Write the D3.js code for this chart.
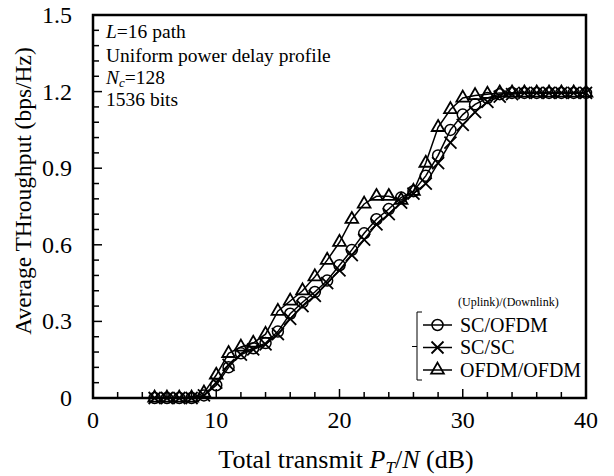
<!DOCTYPE html>
<html>
<head>
<meta charset="utf-8">
<script src="https://cdn.jsdelivr.net/npm/d3@7"></script>
<style>
  body { margin: 0; background: #fff; }
  text { font-family: "Liberation Serif", "Times New Roman", serif; fill: #000; }
</style>
</head>
<body>
<div id="chart"></div>
<script>
// data
const snr = d3.range(5, 41);
const scOfdm = [0, 0, 0, 0, 0.01, 0.05, 0.12, 0.175, 0.195, 0.215, 0.26, 0.33, 0.375, 0.415, 0.46, 0.52,
  0.58, 0.645, 0.70, 0.74, 0.785, 0.81, 0.87, 0.95, 1.05, 1.11, 1.15, 1.175, 1.19, 1.195,
  1.195, 1.195, 1.195, 1.195, 1.195, 1.195];
const scSc = [0, 0, 0, 0, 0.01, 0.06, 0.13, 0.17, 0.19, 0.21, 0.25, 0.31, 0.36, 0.40, 0.45, 0.50,
  0.56, 0.62, 0.68, 0.72, 0.765, 0.80, 0.84, 0.92, 1.00, 1.07, 1.12, 1.16, 1.18, 1.19,
  1.195, 1.195, 1.195, 1.195, 1.195, 1.195];
const ofdmOfdm = [0, 0, 0, 0, 0.02, 0.09, 0.175, 0.20, 0.215, 0.25, 0.34, 0.38, 0.42, 0.475, 0.54, 0.61,
  0.70, 0.76, 0.79, 0.79, 0.775, 0.81, 0.92, 1.06, 1.13, 1.175, 1.185, 1.19, 1.195, 1.195,
  1.195, 1.195, 1.195, 1.195, 1.195, 1.195];
const seriesNames = ["SC/OFDM", "SC/SC", "OFDM/OFDM"];
const xTicks = [0, 10, 20, 30, 40];
const yTicks = [0, 0.3, 0.6, 0.9, 1.2, 1.5];

const width = 614, height = 476;
const margin = {top: 15, right: 28, bottom: 78, left: 93};

const svg = d3.select("#chart").append("svg")
  .attr("width", width).attr("height", height);

const x = d3.scaleLinear().domain([0, 40]).range([margin.left, width - margin.right]);
const y = d3.scaleLinear().domain([0, 1.5]).range([height - margin.bottom, margin.top]);

// ticks point inward
const g = svg.append("g").attr("stroke", "#000").attr("stroke-width", 1.5);
d3.range(0, 40.01, 2).forEach(v => {
  const len = v % 10 === 0 ? 9 : 6;
  g.append("line").attr("x1", x(v)).attr("x2", x(v))
    .attr("y1", y(0)).attr("y2", y(0) - len);
});
d3.range(0, 1.501, 0.06).forEach(v => {
  const major = Math.abs(v / 0.3 - Math.round(v / 0.3)) < 1e-6;
  g.append("line").attr("x1", x(0)).attr("x2", x(0) + (major ? 9 : 6))
    .attr("y1", y(v)).attr("y2", y(v));
});

// tick labels
svg.append("g").selectAll("text").data(xTicks).join("text")
  .attr("x", d => x(d)).attr("y", y(0) + 30)
  .attr("text-anchor", "middle").attr("font-size", 24)
  .text(d => d);
svg.append("g").selectAll("text").data(yTicks).join("text")
  .attr("x", 72).attr("y", d => y(d) + 8)
  .attr("text-anchor", "end").attr("font-size", 24)
  .text(d => d === 0 ? "0" : d3.format(".1f")(d));

// frame
svg.append("rect")
  .attr("x", x(0)).attr("y", y(1.5))
  .attr("width", x(40) - x(0)).attr("height", y(0) - y(1.5))
  .attr("fill", "none").attr("stroke", "#000").attr("stroke-width", 2.5);

// axis titles
svg.append("text")
  .attr("transform", "translate(31,191) rotate(-90)")
  .attr("text-anchor", "middle").attr("font-size", 23.5)
  .text("Average THroughput (bps/Hz)");
const xt = svg.append("text")
  .attr("x", 346).attr("y", 468)
  .attr("text-anchor", "middle").attr("font-size", 26);
xt.append("tspan").text("Total transmit ");
xt.append("tspan").attr("font-style", "italic").text("P");
xt.append("tspan").attr("font-style", "italic").attr("font-size", 17).attr("dy", 5).text("T");
xt.append("tspan").attr("dy", -5).text("/");
xt.append("tspan").attr("font-style", "italic").text("N");
xt.append("tspan").text(" (dB)");

// annotation
const ann = svg.append("g").attr("font-size", 19.5);
const a1 = ann.append("text").attr("x", 106).attr("y", 38);
a1.append("tspan").attr("font-style", "italic").text("L");
a1.append("tspan").text("=16 path");
ann.append("text").attr("x", 106).attr("y", 61.5).text("Uniform power delay profile");
const a3 = ann.append("text").attr("x", 106).attr("y", 84);
a3.append("tspan").attr("font-style", "italic").text("N");
a3.append("tspan").attr("font-style", "italic").attr("font-size", 13).attr("dy", 3).text("c");
a3.append("tspan").attr("dy", -3).text("=128");
ann.append("text").attr("x", 106).attr("y", 106).text("1536 bits");

// series
const line = d3.line().x((d, i) => x(snr[i])).y(d => y(d));
const allSeries = [scOfdm, scSc, ofdmOfdm];

function drawMarker(sel, type) {
  if (type === 0) {
    sel.append("circle").attr("r", 5.5).attr("fill", "none")
      .attr("stroke", "#000").attr("stroke-width", 1.5);
  } else if (type === 1) {
    sel.append("path").attr("d", "M-6,-6L6,6M-6,6L6,-6")
      .attr("stroke", "#000").attr("stroke-width", 1.8);
  } else {
    sel.append("path").attr("d", d3.symbol(d3.symbolTriangle, 70)())
      .attr("fill", "none").attr("stroke", "#000").attr("stroke-width", 1.8);
  }
}

allSeries.forEach((vals, k) => {
  svg.append("path").datum(vals)
    .attr("d", line).attr("fill", "none")
    .attr("stroke", "#000").attr("stroke-width", 1.5);
  vals.forEach((v, i) => {
    const m = svg.append("g").attr("transform", `translate(${x(snr[i])},${y(v)})`);
    drawMarker(m, k);
  });
});

// legend
const lg = svg.append("g");
lg.append("text").attr("x", 458).attr("y", 306).attr("font-size", 12)
  .text("(Uplink)/(Downlink)");
lg.append("path")
  .attr("d", "M422,312H417V380H422M417,346.5H412")
  .attr("fill", "none").attr("stroke", "#000").attr("stroke-width", 1);
seriesNames.forEach((name, k) => {
  const ly = 325 + k * 22.5;
  lg.append("line").attr("x1", 423).attr("x2", 452).attr("y1", ly).attr("y2", ly)
    .attr("stroke", "#000").attr("stroke-width", 1.5);
  drawMarker(lg.append("g").attr("transform", `translate(437.5,${ly})`), k);
  lg.append("text").attr("x", 460).attr("y", ly + 6.5).attr("font-size", 20).text(name);
});
</script>
</body>
</html>
